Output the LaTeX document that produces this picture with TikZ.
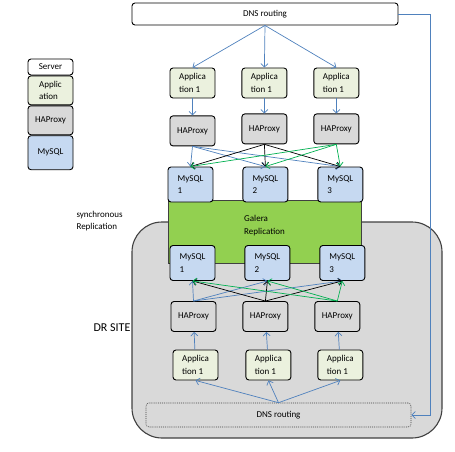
\documentclass[tikz,border=0pt]{standalone}
\usepackage{fontspec}
\setmainfont{Carlito}
\usetikzlibrary{positioning,calc,arrows.meta}
\definecolor{appfill}{HTML}{EBF1DE}
\definecolor{hapfill}{HTML}{D9D9D9}
\definecolor{sqlfill}{HTML}{C6D9F1}
\definecolor{galfill}{HTML}{92D050}
\definecolor{drfill}{HTML}{D9D9D9}
\definecolor{drline}{HTML}{404040}
\definecolor{lnblue}{HTML}{4F81BD}
\definecolor{lngreen}{HTML}{00B050}
\tikzset{box/.style={draw, rounded corners=3pt, line width=0.9pt, align=left, font=\fontsize{9}{12.5}\selectfont, minimum width=45pt, minimum height=30pt, inner sep=2pt}}
\tikzset{appbox/.style={box, fill=appfill}}
\tikzset{hapbox/.style={box, fill=hapfill}}
\tikzset{sqlbox/.style={box, fill=sqlfill, minimum height=35pt}}
\tikzset{legbox/.style={box, minimum height=29pt}}
\tikzset{line/.style={draw, lnblue, line width=0.7pt, -{Straight Barb[length=3.5pt,width=7pt]}}}

\begin{document}
\begin{tikzpicture}[x=1pt, y=-1pt]
        \useasboundingbox (0,0) rectangle (455,452);
        % DR site and replication
        \node [draw=drline, fill=drfill, line width=1.1pt, rounded corners=30pt, minimum width=310pt, minimum height=216pt] (drsite) at (287,330) {};
        \node [draw=drline, fill=galfill, line width=0.8pt, minimum width=193pt, minimum height=63pt] (galera) at (264.5,231.5) {};
        \node [align=left, font=\fontsize{9}{12.5}\selectfont] (galtext) at ($(galera.center)+(0,-6)$) {Galera\\Replication};
        %
        % legend
        \node [box, fill=white, minimum height=16pt]        (lgserver) at (50.5,67) {Server};
        \node [legbox, fill=appfill, below=0pt of lgserver] (lgapp)    {Applic\\ation};
        \node [legbox, fill=hapfill, below=0pt of lgapp]    (lghap)    {HAProxy};
        \node [legbox, fill=sqlfill, minimum height=34pt, below=0pt of lghap] (lgsql) {MySQL};
        %
        % main site
        \node [box, minimum width=266pt, minimum height=22pt, align=center] (dnstop) at (265,14) {DNS routing};
        \node [appbox]                          (app1t)  at (192.5,83) {Applica\\tion 1};
        \node [appbox, right=26pt of app1t]     (app2t)  {Applica\\tion 1};
        \node [appbox, right=26pt of app2t]     (app3t)  {Applica\\tion 1};
        \node [hapbox, below=17pt of app1t]     (hap1t)  {HAProxy};
        \node [hapbox, below=15pt of app2t]     (hap2t)  {HAProxy};
        \node [hapbox, below=15pt of app3t]     (hap3t)  {HAProxy};
        \node [sqlbox]                          (sql1t)  at (190.5,184.5) {MySQL\\1};
        \node [sqlbox, right=29pt of sql1t]     (sql2t)  {MySQL\\2};
        \node [sqlbox, right=29pt of sql2t]     (sql3t)  {MySQL\\3};
        %
        % DR site nodes
        \node [sqlbox]                          (sql1b)  at (192.5,263) {MySQL\\1};
        \node [sqlbox, right=29pt of sql1b]     (sql2b)  {MySQL\\2};
        \node [sqlbox, right=29pt of sql2b]     (sql3b)  {MySQL\\3};
        \node [hapbox]                          (hap1b)  at (193.5,316.5) {HAProxy};
        \node [hapbox, right=26pt of hap1b]     (hap2b)  {HAProxy};
        \node [hapbox, right=26pt of hap2b]     (hap3b)  {HAProxy};
        \node [appbox]                          (app1b)  at (195.5,365) {Applica\\tion 1};
        \node [appbox, right=27pt of app1b]     (app2b)  {Applica\\tion 1};
        \node [appbox, right=26pt of app2b]     (app3b)  {Applica\\tion 1};
        \node [box, draw=drline, densely dotted, line width=0.6pt, fill=drfill, minimum width=265pt, minimum height=24pt, align=center] (dnsbot) at (278.5,415) {DNS routing};
        %
        % side texts
        \node [align=left, font=\fontsize{9}{12.5}\selectfont, anchor=west] (synctext) at (73,221) {synchronous\\Replication};
        \node [font=\fontsize{12}{14}\selectfont, anchor=west] (drtext) at (90,328) {DR SITE};
        %
        \coordinate (turn) at (430,0);
        \path [line] (dnstop.east) -- (dnstop.east -| turn) -- (turn |- dnsbot.east) -- (dnsbot.east);
        %
        \path [line] (dnstop.south) -- (app1t.north);
        \path [line] (dnstop.south) -- (app2t.north);
        \path [line] (dnstop.south) -- (app3t.north);
        \path [line] (app1t) -- (hap1t);
        \path [line] (app2t) -- (hap2t);
        \path [line] (app3t) -- (hap3t);
        \path [line] (hap1t.south) -- (sql1t.north);
        \path [line] (hap1t.south) -- (sql2t.north);
        \path [line] (hap1t.south) -- (sql3t.north);
        \path [line, black] (hap2t.south) -- (sql1t.north);
        \path [line, black] (hap2t.south) -- (sql2t.north);
        \path [line, black] (hap2t.south) -- (sql3t.north);
        \path [line, lngreen] (hap3t.south) -- (sql1t.north);
        \path [line, lngreen] (hap3t.south) -- (sql2t.north);
        \path [line, lngreen] (hap3t.south) -- (sql3t.north);
        %
        \path [line] (dnsbot.north) -- (app1b.south);
        \path [line] (dnsbot.north) -- (app2b.south);
        \path [line] (dnsbot.north) -- (app3b.south);
        \path [line] (app1b) -- (hap1b);
        \path [line] (app2b) -- (hap2b);
        \path [line] (app3b) -- (hap3b);
        \path [line] (hap1b.north) -- (sql1b.south);
        \path [line] (hap1b.north) -- (sql2b.south);
        \path [line] (hap1b.north) -- (sql3b.south);
        \path [line, black] (hap2b.north) -- (sql1b.south);
        \path [line, black] (hap2b.north) -- (sql2b.south);
        \path [line, black] (hap2b.north) -- (sql3b.south);
        \path [line, lngreen] (hap3b.north) -- (sql1b.south);
        \path [line, lngreen] (hap3b.north) -- (sql2b.south);
        \path [line, lngreen] (hap3b.north) -- (sql3b.south);
    \end{tikzpicture}
\end{document}
